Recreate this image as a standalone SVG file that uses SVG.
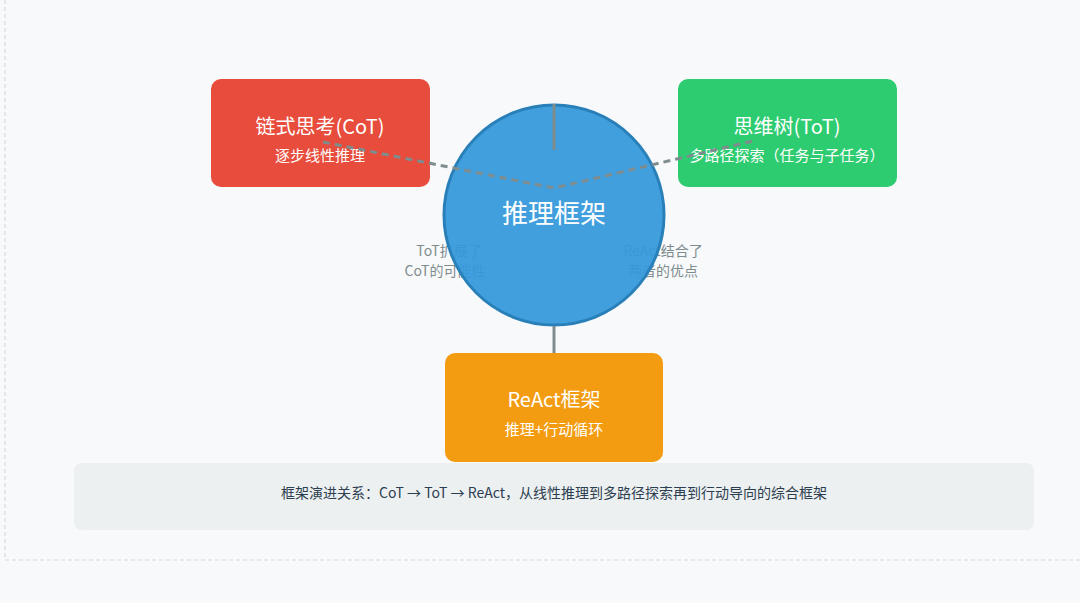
<svg xmlns="http://www.w3.org/2000/svg" width="1080" height="603" viewBox="0 0 1080 603">
<style>
text{font-family:"Noto Sans CJK SC","Noto Sans",sans-serif;text-anchor:middle}
.t{fill:#fff;font-size:20px}
.s{fill:#fff;font-size:15px}
.l{fill:#7f8c8d;font-size:14px}
.c{stroke:#7f8c8d;stroke-width:3;fill:none}
</style>
<rect width="1080" height="603" fill="#f7f9fb"/>
<path d="M5 0 V560 H1080" fill="none" stroke="#d5dbe1" stroke-width="1.2" stroke-dasharray="4 3"/>
<g id="labels">
<text class="l" x="449" y="256">ToT扩展了</text>
<text class="l" x="445" y="276">CoT的可能性</text>
<text class="l" x="663" y="256">ReAct结合了</text>
<text class="l" x="663" y="276">两者的优点</text>
</g>
<g id="cot"><rect x="211" y="79" width="219" height="108" rx="10" fill="#e74c3c"/>
<text class="t" x="320" y="134">链式思考(CoT)</text><text class="s" x="320" y="161">逐步线性推理</text></g>
<g id="tot"><rect x="678" y="79" width="219" height="108" rx="10" fill="#2ecc71"/>
<text class="t" x="787" y="134">思维树(ToT)</text><text class="s" x="787" y="161">多路径探索（任务与子任务）</text></g>
<g id="react"><rect x="445" y="353" width="218" height="109" rx="10" fill="#f39c12"/>
<text class="t" x="554" y="407">ReAct框架</text><text class="s" x="554" y="435">推理+行动循环</text></g>
<g id="center"><circle cx="554" cy="215" r="110" fill="#3498db" fill-opacity="0.93" stroke="#2980b9" stroke-width="3"/>
<text x="554" y="223" style="fill:#fff;font-size:26px">推理框架</text></g>
<g id="connectors">
<line class="c" x1="554" y1="104" x2="554" y2="150" stroke-width="2"/>
<line class="c" x1="554" y1="326" x2="554" y2="353" stroke-width="2"/>
<path class="c" d="M323 142 L554 188 L757 140" stroke-dasharray="7 5"/>
</g>
<g id="note"><rect x="74" y="463" width="960" height="67" rx="8" fill="#ecf0f1"/>
<text x="554" y="498" style="fill:#2c3e50;font-size:14px">框架演进关系：CoT → ToT → ReAct，从线性推理到多路径探索再到行动导向的综合框架</text></g>
</svg>
